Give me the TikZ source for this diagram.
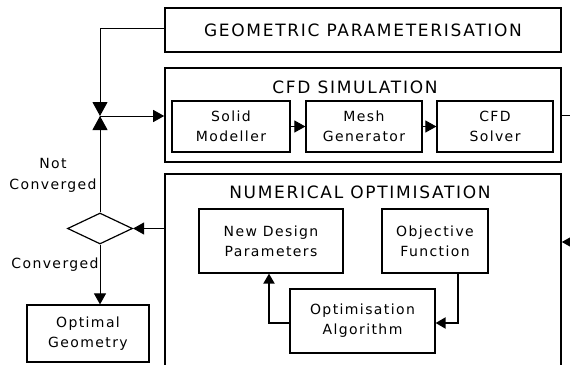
\documentclass[tikz,border=0pt]{standalone}
\usepackage{fontspec}
\setmainfont{DejaVu Sans}[LetterSpace=10]
\usetikzlibrary{arrows.meta,shapes.geometric,calc}

\tikzset{
  outerbox/.style={draw, line width=1.6pt, rectangle, inner sep=0pt},
  innerbox/.style={draw, line width=1.2pt, rectangle, inner sep=0pt, align=center,
    font=\fontsize{14}{20}\selectfont},
  title/.style={font=\fontsize{17}{20}\selectfont, inner sep=0pt},
  lbl/.style={font=\fontsize{14}{21}\selectfont, align=center, inner sep=0pt},
  flow/.style={line width=1pt, -{Triangle[length=11pt,width=12pt]}},
  thickflow/.style={line width=2pt, -{Triangle[length=10pt,width=11pt]}},
  meet/.style={line width=1pt, -{Triangle[length=14pt,width=15pt]}},
  plain/.style={line width=1pt}
}

\begin{document}
\begin{tikzpicture}[x=1pt,y=-1pt]
\useasboundingbox (0,0) rectangle (570,364);
\fill[white] (0,0) rectangle (570,364);
\begin{scope}
\clip (0,0) rectangle (570,364);

% main stages
\node[outerbox, minimum width=396pt, minimum height=44pt] (geo) at (363,30) {};
\node[title] (geotitle) at (363,30) {GEOMETRIC PARAMETERISATION};

\node[outerbox, minimum width=396pt, minimum height=94pt] (cfd) at (363,115) {};
\node[title] (cfdtitle) at (355,87) {CFD SIMULATION};
\node[innerbox, minimum width=118pt, minimum height=51pt] (solid) at (231,126.5) {Solid\\Modeller};
\node[innerbox, minimum width=116pt, minimum height=51pt] (mesh) at (364,126.5) {Mesh\\Generator};
\node[innerbox, minimum width=116pt, minimum height=51pt] (solver) at (495,126.5) {CFD\\Solver};

\node[outerbox, minimum width=396pt, minimum height=210pt] (num) at (363,279) {};
\node[title] (numtitle) at (360,192) {NUMERICAL OPTIMISATION};
\node[innerbox, minimum width=144pt, minimum height=64pt] (newdes) at (271,241) {New Design\\Parameters};
\node[innerbox, minimum width=106pt, minimum height=64pt] (objf) at (435,241) {Objective\\Function};
\node[innerbox, minimum width=145pt, minimum height=64pt] (optalg) at (362.5,321) {Optimisation\\Algorithm};

% convergence test and result
\node[draw, line width=1.2pt, diamond, inner sep=0pt, minimum width=65pt, minimum height=31pt] (test) at (100,228.5) {};
\node[innerbox, minimum width=122pt, minimum height=57pt] (optgeo) at (88,333.5) {Optimal\\Geometry};

\node[lbl] (notconv) at (53,175) {Not\\Converged};
\node[lbl] (conv) at (55,265) {Converged};

% junction feeding the CFD stage
\coordinate (j) at (100,116);
\coordinate (outcfd) at (575,115);
\coordinate (innum) at (575,242);

% connectors
\draw[meet] ([yshift=2pt]geo.west) -| (j);
\draw[meet] (test.north) -- (j);
\draw[flow] (j) -- (cfd.west |- j);
\draw[flow] (solid) -- (mesh);
\draw[flow] (mesh) -- (solver);
\draw[plain] (cfd.east) -- (outcfd);
\draw[flow] (innum) -- (num.east |- innum);
\draw[flow] (num.west |- test.east) -- (test.east);
\draw[flow] (test.south) -- (test.south |- optgeo.north);
\draw[thickflow] ([xshift=23pt]objf.south) |- ([yshift=-2pt]optalg.east);
\draw[thickflow] ([yshift=-2pt]optalg.west) -| ([xshift=-2pt]newdes.south);
\end{scope}
\end{tikzpicture}
\end{document}
